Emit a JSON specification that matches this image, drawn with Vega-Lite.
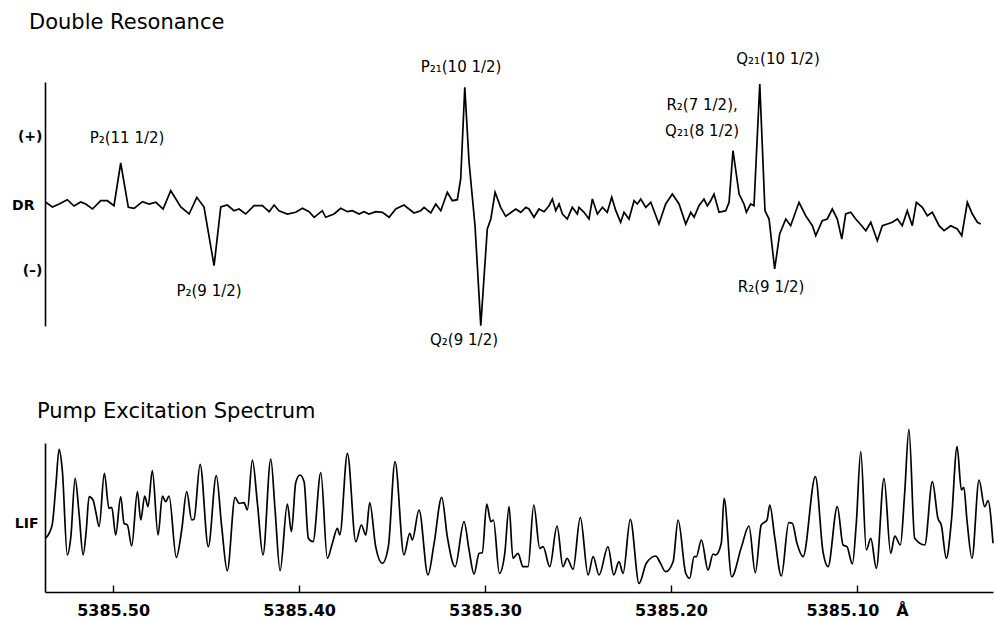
{
  "$schema": "https://vega.github.io/schema/vega-lite/v6.json",
  "background": "white",
  "padding": {"left": 11, "top": 12, "right": 0, "bottom": 0},
  "config": {
    "view": {"stroke": null},
    "font": "DejaVu Sans",
    "axis": {"grid": false, "domainColor": "black", "domainWidth": 1.6, "labelColor": "black", "labelFont": "DejaVu Sans", "labelFontWeight": "bold", "title": null}
  },
  "spacing": 117,
  "bounds": "flush",
  "datasets": {
    "dr": [
      {"w":5385.5362,"v":2.7},{"w":5385.5326,"v":-2},{"w":5385.5290,"v":1},{"w":5385.5246,"v":5.3},{"w":5385.5210,"v":-1},{"w":5385.5174,"v":3},{"w":5385.5147,"v":1},{"w":5385.5111,"v":-4},{"w":5385.5066,"v":4.3},{"w":5385.5031,"v":4.3},{"w":5385.4995,"v":-0.7},{"w":5385.4959,"v":42},{"w":5385.4918,"v":-2.3},{"w":5385.4887,"v":-3.3},{"w":5385.4842,"v":3.3},{"w":5385.4806,"v":1},{"w":5385.4770,"v":2.7},{"w":5385.4731,"v":-4},{"w":5385.4690,"v":14.3},{"w":5385.4636,"v":-2},{"w":5385.4591,"v":-9},{"w":5385.4550,"v":7.7},{"w":5385.4511,"v":-2},{"w":5385.4457,"v":-60.7},{"w":5385.4421,"v":-2},{"w":5385.4386,"v":0},{"w":5385.4350,"v":-5.7},{"w":5385.4323,"v":-4},{"w":5385.4287,"v":-9},{"w":5385.4242,"v":-0.7},{"w":5385.4197,"v":-0.7},{"w":5385.4161,"v":-6.7},{"w":5385.4134,"v":0},{"w":5385.4108,"v":-5.7},{"w":5385.4063,"v":-9},{"w":5385.4018,"v":-7.3},{"w":5385.3982,"v":-3.3},{"w":5385.3946,"v":-6.7},{"w":5385.3919,"v":-12.3},{"w":5385.3875,"v":-5.7},{"w":5385.3857,"v":-12.3},{"w":5385.3812,"v":-9},{"w":5385.3776,"v":-3.3},{"w":5385.3740,"v":-6.7},{"w":5385.3714,"v":-5.7},{"w":5385.3677,"v":-9},{"w":5385.3651,"v":-6.7},{"w":5385.3624,"v":-9},{"w":5385.3588,"v":-6.7},{"w":5385.3552,"v":-7.3},{"w":5385.3516,"v":-12.3},{"w":5385.3480,"v":-4},{"w":5385.3436,"v":0},{"w":5385.3382,"v":-8},{"w":5385.3346,"v":-5.7},{"w":5385.3328,"v":-2.3},{"w":5385.3292,"v":-8},{"w":5385.3265,"v":1},{"w":5385.3238,"v":-5.7},{"w":5385.3203,"v":12.7},{"w":5385.3176,"v":4.3},{"w":5385.3149,"v":5.3},{"w":5385.3131,"v":26},{"w":5385.3109,"v":117.7},{"w":5385.3086,"v":42.7},{"w":5385.3054,"v":-20.7},{"w":5385.3023,"v":-120.7},{"w":5385.2988,"v":-24},{"w":5385.2969,"v":-14},{"w":5385.2946,"v":12.7},{"w":5385.2916,"v":-2.3},{"w":5385.2889,"v":-11.3},{"w":5385.2835,"v":-4},{"w":5385.2808,"v":-7.3},{"w":5385.2781,"v":-2.3},{"w":5385.2764,"v":-4},{"w":5385.2737,"v":-12.3},{"w":5385.2710,"v":-4},{"w":5385.2683,"v":-6.7},{"w":5385.2656,"v":-0.7},{"w":5385.2638,"v":6},{"w":5385.2620,"v":-5.7},{"w":5385.2602,"v":1},{"w":5385.2584,"v":-9},{"w":5385.2558,"v":-14},{"w":5385.2531,"v":-2.3},{"w":5385.2504,"v":-9},{"w":5385.2495,"v":-2.3},{"w":5385.2468,"v":-7.3},{"w":5385.2441,"v":-14},{"w":5385.2423,"v":6},{"w":5385.2396,"v":-9},{"w":5385.2369,"v":-2.3},{"w":5385.2343,"v":-7.3},{"w":5385.2319,"v":7.7},{"w":5385.2297,"v":-5.7},{"w":5385.2271,"v":-17.3},{"w":5385.2253,"v":-7.3},{"w":5385.2226,"v":-14},{"w":5385.2199,"v":4.3},{"w":5385.2181,"v":1},{"w":5385.2163,"v":6},{"w":5385.2136,"v":-2.3},{"w":5385.2109,"v":2.7},{"w":5385.2065,"v":-19},{"w":5385.2029,"v":1},{"w":5385.1993,"v":11},{"w":5385.1957,"v":1},{"w":5385.1921,"v":-19},{"w":5385.1894,"v":-7.3},{"w":5385.1876,"v":-12.3},{"w":5385.1850,"v":-0.7},{"w":5385.1823,"v":6},{"w":5385.1805,"v":-0.7},{"w":5385.1787,"v":4.3},{"w":5385.1769,"v":11},{"w":5385.1742,"v":-7.3},{"w":5385.1706,"v":-5.7},{"w":5385.1688,"v":2.7},{"w":5385.1667,"v":54.3},{"w":5385.1634,"v":11},{"w":5385.1608,"v":1},{"w":5385.1595,"v":-7.3},{"w":5385.1572,"v":1},{"w":5385.1554,"v":-0.7},{"w":5385.1523,"v":121},{"w":5385.1495,"v":-5.7},{"w":5385.1473,"v":-14},{"w":5385.1443,"v":-64},{"w":5385.1416,"v":-29},{"w":5385.1383,"v":-14},{"w":5385.1357,"v":-20.7},{"w":5385.1312,"v":2.7},{"w":5385.1276,"v":-10.7},{"w":5385.1240,"v":-20.7},{"w":5385.1222,"v":-30.7},{"w":5385.1187,"v":-15.7},{"w":5385.1160,"v":-14},{"w":5385.1133,"v":-4},{"w":5385.1106,"v":-14},{"w":5385.1082,"v":-34},{"w":5385.1061,"v":-9},{"w":5385.1034,"v":-7.3},{"w":5385.1007,"v":-14},{"w":5385.0975,"v":-20.7},{"w":5385.0953,"v":-25.7},{"w":5385.0926,"v":-17.3},{"w":5385.0891,"v":-35.7},{"w":5385.0864,"v":-20.7},{"w":5385.0837,"v":-19},{"w":5385.0810,"v":-17.3},{"w":5385.0783,"v":-14},{"w":5385.0757,"v":-20.7},{"w":5385.0730,"v":-5.7},{"w":5385.0703,"v":-20.7},{"w":5385.0681,"v":2.7},{"w":5385.0649,"v":-2.3},{"w":5385.0622,"v":-10.7},{"w":5385.0595,"v":-7.3},{"w":5385.0559,"v":-20.7},{"w":5385.0532,"v":-25.7},{"w":5385.0496,"v":-20.7},{"w":5385.0461,"v":-24},{"w":5385.0437,"v":-30.7},{"w":5385.0407,"v":2.7},{"w":5385.0380,"v":-9},{"w":5385.0353,"v":-17.3},{"w":5385.0335,"v":-19}
    ],
    "lif": [
      {"w":5385.5362,"v":53.7},{"w":5385.5344,"v":58.7},{"w":5385.5326,"v":68.7},{"w":5385.5308,"v":105.3},{"w":5385.5290,"v":142.7},{"w":5385.5273,"v":122},{"w":5385.5246,"v":37},{"w":5385.5227,"v":55.3},{"w":5385.5204,"v":113.7},{"w":5385.5183,"v":78.7},{"w":5385.5161,"v":37},{"w":5385.5144,"v":62},{"w":5385.5129,"v":95.3},{"w":5385.5108,"v":92},{"w":5385.5093,"v":80.3},{"w":5385.5075,"v":65.3},{"w":5385.5047,"v":118.7},{"w":5385.5022,"v":83.7},{"w":5385.5007,"v":84.7},{"w":5385.4986,"v":57},{"w":5385.4959,"v":95.3},{"w":5385.4941,"v":68.7},{"w":5385.4923,"v":67},{"w":5385.4900,"v":46},{"w":5385.4869,"v":100.3},{"w":5385.4851,"v":72},{"w":5385.4830,"v":96},{"w":5385.4812,"v":85.3},{"w":5385.4789,"v":121.3},{"w":5385.4758,"v":57},{"w":5385.4735,"v":96},{"w":5385.4717,"v":90.3},{"w":5385.4699,"v":96},{"w":5385.4660,"v":34.7},{"w":5385.4631,"v":62},{"w":5385.4604,"v":100.3},{"w":5385.4577,"v":72},{"w":5385.4565,"v":72.7},{"w":5385.4532,"v":127.7},{"w":5385.4488,"v":45.3},{"w":5385.4445,"v":116.3},{"w":5385.4416,"v":65.3},{"w":5385.4386,"v":21.3},{"w":5385.4344,"v":94.7},{"w":5385.4323,"v":88.7},{"w":5385.4296,"v":89.3},{"w":5385.4278,"v":82},{"w":5385.4251,"v":132},{"w":5385.4224,"v":88.7},{"w":5385.4194,"v":37},{"w":5385.4152,"v":133},{"w":5385.4129,"v":82},{"w":5385.4102,"v":21.3},{"w":5385.4063,"v":88},{"w":5385.4041,"v":60.3},{"w":5385.4018,"v":109.3},{"w":5385.3995,"v":117},{"w":5385.3973,"v":110.3},{"w":5385.3950,"v":53.7},{"w":5385.3925,"v":50.3},{"w":5385.3883,"v":119.3},{"w":5385.3848,"v":33.7},{"w":5385.3821,"v":48.7},{"w":5385.3794,"v":63.7},{"w":5385.3781,"v":57},{"w":5385.3740,"v":138.7},{"w":5385.3695,"v":50.3},{"w":5385.3665,"v":67},{"w":5385.3641,"v":57},{"w":5385.3620,"v":89.3},{"w":5385.3588,"v":45.3},{"w":5385.3552,"v":28.7},{"w":5385.3520,"v":45.3},{"w":5385.3484,"v":130.3},{"w":5385.3436,"v":37},{"w":5385.3405,"v":58.7},{"w":5385.3391,"v":52},{"w":5385.3355,"v":82},{"w":5385.3307,"v":17},{"w":5385.3274,"v":48.7},{"w":5385.3233,"v":94.7},{"w":5385.3203,"v":55.3},{"w":5385.3161,"v":25.3},{"w":5385.3113,"v":70.3},{"w":5385.3086,"v":42},{"w":5385.3059,"v":18},{"w":5385.3032,"v":38.7},{"w":5385.3015,"v":39.3},{"w":5385.2991,"v":88},{"w":5385.2969,"v":70.3},{"w":5385.2955,"v":72},{"w":5385.2923,"v":18.7},{"w":5385.2894,"v":38.7},{"w":5385.2871,"v":85.3},{"w":5385.2850,"v":33.7},{"w":5385.2823,"v":38.7},{"w":5385.2796,"v":25.3},{"w":5385.2769,"v":25.3},{"w":5385.2738,"v":87},{"w":5385.2706,"v":43.7},{"w":5385.2688,"v":45.3},{"w":5385.2652,"v":25.3},{"w":5385.2613,"v":66},{"w":5385.2581,"v":25.3},{"w":5385.2559,"v":33.7},{"w":5385.2527,"v":22.7},{"w":5385.2488,"v":74.7},{"w":5385.2446,"v":17},{"w":5385.2419,"v":35.3},{"w":5385.2387,"v":17},{"w":5385.2339,"v":45.3},{"w":5385.2308,"v":17},{"w":5385.2280,"v":30.3},{"w":5385.2258,"v":18.7},{"w":5385.2219,"v":72.7},{"w":5385.2172,"v":8.7},{"w":5385.2133,"v":28.7},{"w":5385.2082,"v":36},{"w":5385.2061,"v":30.3},{"w":5385.2029,"v":20.3},{"w":5385.1989,"v":30.3},{"w":5385.1962,"v":72},{"w":5385.1921,"v":18.7},{"w":5385.1900,"v":13.7},{"w":5385.1876,"v":35.3},{"w":5385.1864,"v":35.3},{"w":5385.1837,"v":52},{"w":5385.1801,"v":22},{"w":5385.1774,"v":38},{"w":5385.1760,"v":37},{"w":5385.1730,"v":48.7},{"w":5385.1715,"v":93.7},{"w":5385.1674,"v":15.3},{"w":5385.1622,"v":44.7},{"w":5385.1581,"v":66},{"w":5385.1547,"v":19.3},{"w":5385.1515,"v":67},{"w":5385.1484,"v":72},{"w":5385.1469,"v":87},{"w":5385.1443,"v":55.3},{"w":5385.1407,"v":16},{"w":5385.1367,"v":69.3},{"w":5385.1348,"v":68.7},{"w":5385.1323,"v":48.7},{"w":5385.1290,"v":35.3},{"w":5385.1224,"v":115.3},{"w":5385.1183,"v":40.3},{"w":5385.1156,"v":25.3},{"w":5385.1106,"v":85.3},{"w":5385.1075,"v":47},{"w":5385.1054,"v":45.3},{"w":5385.1025,"v":28},{"w":5385.1004,"v":68.7},{"w":5385.0980,"v":140.3},{"w":5385.0950,"v":42},{"w":5385.0926,"v":53.7},{"w":5385.0896,"v":23.7},{"w":5385.0855,"v":113.7},{"w":5385.0819,"v":38.7},{"w":5385.0797,"v":56},{"w":5385.0767,"v":47},{"w":5385.0744,"v":98.7},{"w":5385.0721,"v":162.7},{"w":5385.0690,"v":53.7},{"w":5385.0636,"v":47},{"w":5385.0595,"v":110.3},{"w":5385.0565,"v":73.7},{"w":5385.0547,"v":67},{"w":5385.0520,"v":33.7},{"w":5385.0493,"v":70.3},{"w":5385.0462,"v":145.3},{"w":5385.0439,"v":102},{"w":5385.0426,"v":104.7},{"w":5385.0409,"v":72},{"w":5385.0382,"v":33.7},{"w":5385.0344,"v":112},{"w":5385.0314,"v":85.3},{"w":5385.0296,"v":91.3},{"w":5385.0269,"v":48.7}
    ],
    "ann": [
      {"w":5385.4925,"v":67,"label":"P₂(11 1/2)"},
      {"w":5385.4484,"v":-86,"label":"P₂(9 1/2)"},
      {"w":5385.3129,"v":138,"label":"P₂₁(10 1/2)"},
      {"w":5385.3113,"v":-135,"label":"Q₂(9 1/2)"},
      {"w":5385.1833,"v":100,"label":"R₂(7 1/2),"},
      {"w":5385.1833,"v":74,"label":"Q₂₁(8 1/2)"},
      {"w":5385.1425,"v":146,"label":"Q₂₁(10 1/2)"},
      {"w":5385.1462,"v":-82,"label":"R₂(9 1/2)"}
    ]
  },
  "vconcat": [
    {
      "width": 948,
      "height": 244,
      "title": {"text": "Double Resonance", "anchor": "start", "frame": "group", "dx": -16, "font": "DejaVu Sans", "fontSize": 21, "fontWeight": "normal", "color": "black", "baseline": "alphabetic", "offset": 2},
      "layer": [
        {
          "data": {"name": "dr"},
          "mark": {"type": "line", "color": "black", "strokeWidth": 1.7, "clip": false},
          "encoding": {
            "x": {"field": "w", "type": "quantitative", "scale": {"domain": [5385.0269, 5385.5366], "reverse": true, "nice": false, "zero": false}, "axis": null},
            "y": {"field": "v", "type": "quantitative", "scale": {"domain": [-121, 123], "nice": false, "zero": false},
                  "axis": {"values": [69, 0, -65], "ticks": false, "labelFontSize": 14,
                           "labelPadding": {"condition": {"test": "datum.value == 0", "value": 11}, "value": 3},
                           "labelExpr": "datum.value > 10 ? '(+)' : (datum.value < -10 ? '(–)' : 'DR')"}}
          }
        },
        {
          "data": {"name": "ann"},
          "mark": {"type": "text", "font": "DejaVu Sans", "fontSize": 15, "color": "black", "baseline": "middle", "align": "center"},
          "encoding": {
            "x": {"field": "w", "type": "quantitative"},
            "y": {"field": "v", "type": "quantitative"},
            "text": {"field": "label"}
          }
        }
      ]
    },
    {
      "width": 948,
      "height": 149,
      "title": {"text": "Pump Excitation Spectrum", "anchor": "start", "frame": "group", "dx": -8, "font": "DejaVu Sans", "fontSize": 21, "fontWeight": "normal", "color": "black", "baseline": "alphabetic", "offset": -13},
      "data": {"name": "lif"},
      "mark": {"type": "line", "color": "black", "strokeWidth": 1.7, "interpolate": "monotone", "clip": false},
      "encoding": {
        "x": {"field": "w", "type": "quantitative", "scale": {"domain": [5385.0269, 5385.5366], "reverse": true, "nice": false, "zero": false},
              "axis": {"values": [5385.5, 5385.4, 5385.3, 5385.2, 5385.1], "tickSize": -7, "tickWidth": 1.4, "tickColor": "black", "labelPadding": 17, "labelFontSize": 16, "labelFlush": false,
                       "labelExpr": "datum.value < 5385.15 ? '\u00a0\u00a0\u00a0\u00a0\u00a05385.10\u00a0\u00a0\u00a0Å' : format(datum.value, '.2f')"}},
        "y": {"field": "v", "type": "quantitative", "scale": {"domain": [0, 149], "nice": false, "zero": false},
              "axis": {"values": [69], "ticks": false, "labelPadding": 7, "labelFontSize": 14, "labelExpr": "'LIF'"}}
      }
    }
  ]
}
